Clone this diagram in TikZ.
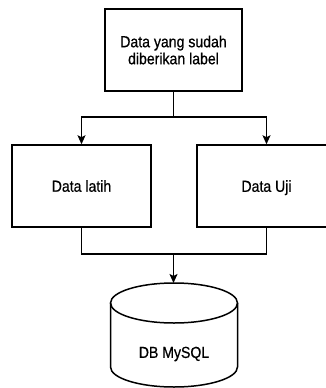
\documentclass[tikz,border=0pt]{standalone}
\usepackage{fontspec}
\setmainfont[FakeStretch=0.88,FakeBold=0.6]{Liberation Sans}
\usetikzlibrary{arrows.meta}
\begin{document}
\begin{tikzpicture}[x=1pt,y=-1pt,
  lbl/.style={font=\fontsize{16}{17}\selectfont, align=center},
  box/.style={lbl, draw, line width=1.5pt, minimum height=82pt, inner sep=0pt},
  conn/.style={line width=1.5pt},
  arr/.style={conn, -{Stealth[length=9pt,width=8pt,inset=2pt]}}]
\useasboundingbox (0,0) rectangle (325,388);
\node[box, minimum width=137pt] (src) at (173.5,50) {Data yang sudah\\diberikan label};
\node[box, minimum width=139pt] (latih) at (81.5,186) {Data latih};
\node[box, minimum width=139pt, text depth=0pt] (uji) at (266.5,186) {Data Uji};
\coordinate (j1) at (173.5,117);
\coordinate (j2) at (173.5,254);
\coordinate (dbtop) at (173.5,283);
\draw[conn] (src.south) -- (j1);
\draw[arr] (j1) -| (latih.north);
\draw[arr] (j1) -| (uji.north);
\draw[conn] (latih.south) |- (j2);
\draw[conn] (uji.south) |- (j2);
\draw[arr] (j2) -- (dbtop);
% cylinder
\draw[conn] (174,303) ellipse [x radius=63.5, y radius=20];
\draw[conn] (110.5,303) -- (110.5,367) arc[start angle=180, end angle=0, x radius=63.5, y radius=20] -- (237.5,303);
\node[lbl] (db) at (174,354) {DB MySQL};
\end{tikzpicture}
\end{document}
